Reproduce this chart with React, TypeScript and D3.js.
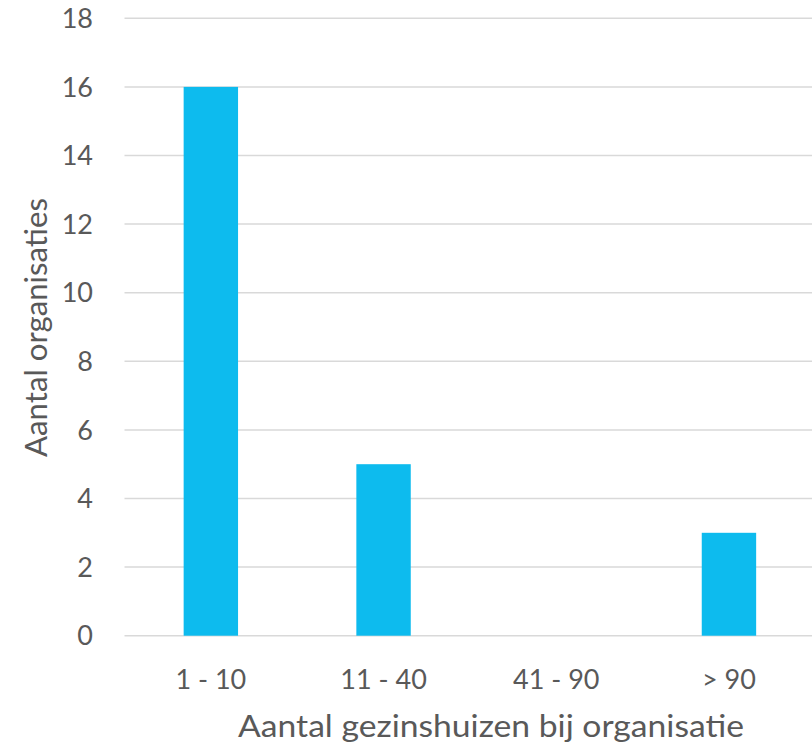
import React from "react";
import * as d3 from "d3";

const categories = ["1 - 10", "11 - 40", "41 - 90", "> 90"];
const values = [16, 5, 0, 3];
const yTicks = [0, 2, 4, 6, 8, 10, 12, 14, 16, 18];
const xTitle = "Aantal gezinshuizen bij organisatie";
const yTitle = "Aantal organisaties";

const W = 812;
const H = 743;
const FONT = "'Source Sans Pro', Lato, 'Open Sans', sans-serif";
const TEXT = "#595959";

export default function App() {
  const x = d3.scaleBand<string>().domain(categories).range([124.5, 815.3]).paddingInner(0.685).paddingOuter(0.3425);
  const y = d3.scaleLinear().domain([0, 18]).range([635.7, 18.3]);
  return (
    <svg width={W} height={H} style={{ position: "absolute", left: 0, top: 0 }} fontFamily={FONT}>
      <rect width={W} height={H} fill="#fff" />
      {yTicks.map((t) => (
        <g key={t}>
          <line x1={124.5} x2={W} y1={y(t)} y2={y(t)} stroke="#d9d9d9" strokeWidth={1.5} />
          <text x={93} y={y(t)} dy="0.36em" textAnchor="end" fontSize={27} fill={TEXT}>{t}</text>
        </g>
      ))}
      {categories.map((c, i) => (
        <rect key={c} x={x(c)} width={x.bandwidth()} y={y(values[i])} height={y(0) - y(values[i])} fill="#0dbbee" />
      ))}
      {categories.map((c) => (
        <text key={c} x={(x(c) as number) + x.bandwidth() / 2} y={689} textAnchor="middle" fontSize={27} fill={TEXT}>{c}</text>
      ))}
      <text x={238} y={737} fontSize={31} fill={TEXT} textLength={506} lengthAdjust="spacingAndGlyphs">{xTitle}</text>
      <text transform={`translate(47,457) rotate(-90)`} fontSize={31} fill={TEXT} textLength={259} lengthAdjust="spacingAndGlyphs">{yTitle}</text>
    </svg>
  );
}
